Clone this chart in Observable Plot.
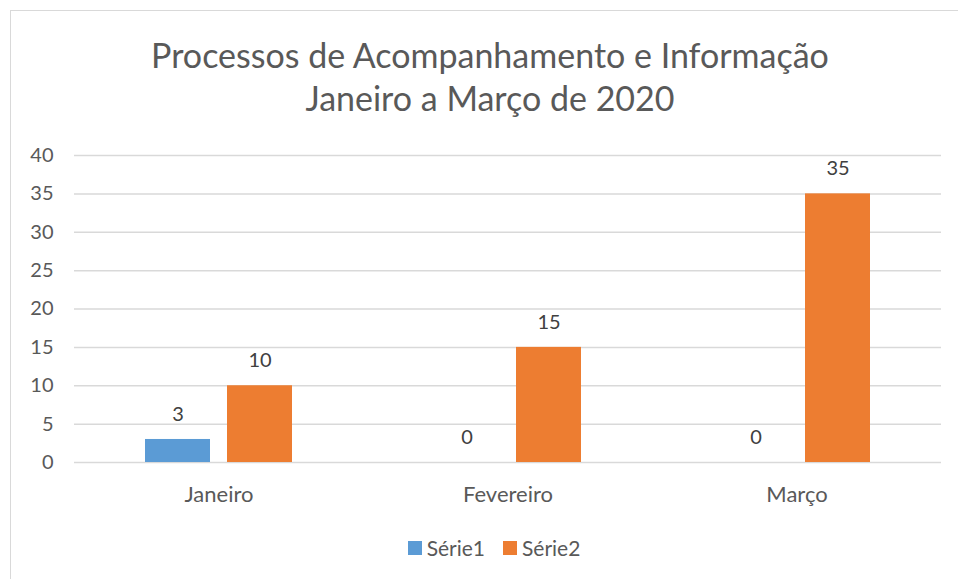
<!DOCTYPE html>
<html><head><meta charset="utf-8">
<script src="https://cdn.jsdelivr.net/npm/d3@7"></script>
<script src="https://cdn.jsdelivr.net/npm/@observablehq/plot@0.6"></script>
<style>
body{margin:0;overflow:hidden;background:#fff;font-family:Lato,"Open Sans",sans-serif;color:#595959;width:958px;height:579px;position:relative}
#frame{position:absolute;left:10px;top:10px;width:1000px;height:700px;border:1.5px solid #d9d9d9;box-sizing:border-box}
#title{position:absolute;left:10px;width:960px;top:33px;text-align:center;font-size:34px;line-height:43px;color:#595959}
#chart{position:absolute;left:0;top:130px}
#legend{position:absolute;left:0;width:988px;top:533px;text-align:center;font-size:21px;line-height:28px;color:#595959}
#legend span.item{display:inline-flex;align-items:center;margin:0 9px}
#legend span.sw{display:inline-block;width:14px;height:14px;margin-right:5px}
</style></head>
<body>
<div id="frame"></div>
<div id="title">Processos de Acompanhamento e Informação<br>Janeiro a Março de 2020</div>
<div id="chart"></div>
<div id="legend"></div>
<script>
const months = ["Janeiro", "Fevereiro", "Março"];
const series = ["Série1", "Série2"];
const serie1 = [3, 0, 0];
const serie2 = [10, 15, 35];
const yTicks = [0, 5, 10, 15, 20, 25, 30, 35, 40];
const colors = ["#5B9BD5", "#ED7D31"];

const data = months.flatMap((m, i) => [
  {month: m, serie: series[0], value: serie1[i]},
  {month: m, serie: series[1], value: serie2[i]}
]);

const font = "Lato, 'Open Sans', sans-serif";
const chart = Plot.plot({
  width: 958, height: 390,
  marginLeft: 73, marginRight: 17, marginTop: 25, marginBottom: 58,
  style: {fontFamily: font, fontSize: "20px", color: "#595959", background: "transparent"},
  fx: {domain: months, padding: 0, label: null, axis: null},
  x: {domain: series, paddingInner: 0.207, paddingOuter: 0.865, axis: null},
  y: {domain: [0, 40], label: null, axis: null},
  color: {domain: series, range: colors},
  marks: [
    Plot.gridY(yTicks, {stroke: "#d9d9d9", strokeOpacity: 1, strokeWidth: 1.5}),
    Plot.axisY(yTicks, {tickSize: 0, tickPadding: 21, label: null, fill: "#595959", fontSize: 20}),
    Plot.axisFx({anchor: "bottom", tickSize: 0, tickPadding: 24, label: null, fill: "#595959", fontSize: 22}),
    Plot.barY(data, {fx: "month", x: "serie", y: "value", fill: "serie"}),
    Plot.text(data, {fx: "month", x: "serie", y: "value", text: d => String(d.value), dy: -25, fill: "#404040", fontSize: 20})
  ]
});
document.getElementById("chart").appendChild(chart);

const legend = document.getElementById("legend");
series.forEach((s, i) => {
  const item = document.createElement("span");
  item.className = "item";
  item.innerHTML = `<span class="sw" style="background:${colors[i]}"></span>${s}`;
  legend.appendChild(item);
});
</script>
</body></html>
